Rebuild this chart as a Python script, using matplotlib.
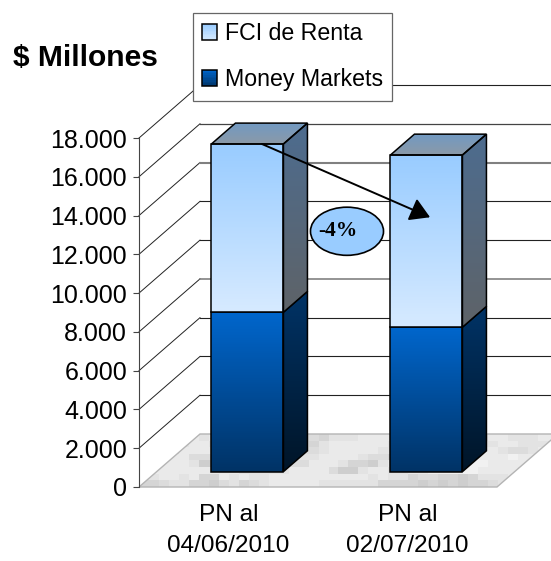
import numpy as np
import matplotlib
matplotlib.use("Agg")
import matplotlib.pyplot as plt
from matplotlib.patches import Polygon, Ellipse, Rectangle, Patch
from matplotlib.legend_handler import HandlerBase
from matplotlib.colors import LinearSegmentedColormap

# ---- data ----
categories = ["PN al\n04/06/2010", "PN al\n02/07/2010"]
money_markets = [8220, 7450]
fci_renta = [8680, 8880]
yticks = [0, 2000, 4000, 6000, 8000, 10000, 12000, 14000, 16000, 18000]
ytick_labels = ["0", "2.000", "4.000", "6.000", "8.000", "10.000", "12.000", "14.000", "16.000", "18.000"]
series_names = ["FCI de Renta", "Money Markets"]
change_label = "-4%"
floor_rows = [
    "777888788877766766577788887778888768877788",
    "887778877887776665788888877665788877887776",
    "887688888887777666788888776668888888766788",
    "888886668887776777888876657788888888898877",
    "888887447888777668887554788888899998888888",
    "888888888877777888864478877889999988887788",
    "778878558787788888888887877566554577788888",
    "556775546756788888777777555545454556788888",
]

W, H = 551, 561
plt.rcParams["font.family"] = ["Liberation Sans", "DejaVu Sans"]
fig = plt.figure(figsize=(W / 100, H / 100), dpi=100, facecolor="white")
L, R, B, T = 139, 497, 487, 138
ax = fig.add_axes([L / W, 1 - B / H, (R - L) / W, (B - T) / H])
ax.set_xlim(0, 2)
ax.set_ylim(0, 18000)
ax.patch.set_visible(False)

DX = 61 / 179          # depth shift in category units
DY = 53 / 349 * 18000  # depth shift in value units


def proj(x, v, d):
    return (x + DX * d, v + DY * d)


def grad_poly(pts, top, bottom, z, edge="black", lw=1.1):
    pts = np.array(pts)
    cmap = LinearSegmentedColormap.from_list("g", [top, bottom])
    im = ax.imshow(np.linspace(0, 1, 64).reshape(-1, 1), cmap=cmap, aspect="auto",
                   extent=(pts[:, 0].min(), pts[:, 0].max(), pts[:, 1].min(), pts[:, 1].max()),
                   zorder=z, origin="upper")
    im.set_clip_box(fig.bbox)
    ax.add_patch(Polygon(pts, closed=True, fc="none", ec=edge, lw=lw, zorder=z + 0.1,
                         clip_on=False, joinstyle="miter"))
    im.set_clip_path(Polygon(pts, closed=True, transform=ax.transData))


# ---- back wall, side wall lines ----
grid_style = {0: ("#aaaaaa", 1.0), 2000: ("#222222", .8), 4000: ("#222222", .8), 6000: ("#222222", .8),
              8000: ("#777777", 1.1), 10000: ("#222222", .8), 12000: ("#222222", .8),
              14000: ("#808080", 1.5), 16000: ("#444444", .9), 18000: ("#222222", .8)}
x_far = 2.4
for v in yticks:
    c, lw = grid_style[v]
    x0, y0 = proj(0, v, 0)
    x1, y1 = proj(0, v, 1)
    if v:
        ax.plot([x0, x1], [y0, y1], color="#222222", lw=0.7, clip_on=False, zorder=1)
        ax.plot([x1, x_far], [y1, y1], color=c, lw=lw, clip_on=False, zorder=1)

# ---- floor ----
floor = [proj(0, 0, 0), proj(2, 0, 0), proj(2, 0, 1), proj(0, 0, 1)]
tex = np.array([[178 + 7 * int(ch) for ch in row] for row in floor_rows], dtype=float)
fx = np.array(floor)
fim = ax.imshow(tex, cmap="gray", vmin=0, vmax=255, aspect="auto", interpolation="nearest", origin="upper",
                extent=(0, fx[:, 0].max(), 0, fx[:, 1].max()), zorder=2)
fim.set_clip_box(fig.bbox)
fim.set_clip_path(Polygon(fx, closed=True, transform=ax.transData))
ax.add_patch(Polygon(fx, closed=True, fc="none", ec="#b4b4b4", lw=1.0, zorder=2.1, clip_on=False))

# ---- 3D stacked bars ----
centers = [0.5, 1.5]
bw = 72 / 179
d0, d1 = 0.29, 0.29 + 24 / 61
shift = 0.007
for c, mm, fci in zip(centers, money_markets, fci_renta):
    x0, x1 = c - bw / 2 + shift, c + bw / 2 + shift
    tot = mm + fci
    # lower series
    grad_poly([proj(x0, 0, d0), proj(x1, 0, d0), proj(x1, mm, d0), proj(x0, mm, d0)], "#0066cc", "#003366", 3)
    grad_poly([proj(x1, 0, d0), proj(x1, 0, d1), proj(x1, mm, d1), proj(x1, mm, d0)], "#003366", "#001528", 3)
    # upper series
    grad_poly([proj(x0, mm, d0), proj(x1, mm, d0), proj(x1, tot, d0), proj(x0, tot, d0)], "#99ccff", "#d6eaff", 4)
    grad_poly([proj(x1, mm, d0), proj(x1, mm, d1), proj(x1, tot, d1), proj(x1, tot, d0)], "#4d6c8f", "#5e6368", 4)
    grad_poly([proj(x0, tot, d0), proj(x1, tot, d0), proj(x1, tot, d1), proj(x0, tot, d1)], "#7299c2", "#8b9aa8", 4)

# ---- axes ----
for s in ["top", "right", "bottom"]:
    ax.spines[s].set_visible(False)
ax.spines["left"].set_color("#444444")
ax.spines["left"].set_linewidth(0.8)
ax.set_yticks(yticks)
ax.set_yticklabels(ytick_labels, fontsize=18)
ax.tick_params(axis="y", length=4.5, width=0.8, color="#444444", pad=4, labelcolor="black")
ax.set_xticks(centers)
ax.set_xticklabels(categories, fontsize=17.6, linespacing=1.55)
ax.tick_params(axis="x", length=0, pad=12)

# ---- annotations ----
ax.annotate("", xy=(1.626, 13913), xytext=(0.687, 17690), zorder=6,
            arrowprops=dict(arrowstyle="-|>,head_length=0.75,head_width=0.45", color="black", lw=1.4,
                            shrinkA=0, shrinkB=0, mutation_scale=16))
ax.add_patch(Ellipse((1.162, 13190), 0.408, 2483, fc="#99ccff", ec="black", lw=1.2, zorder=7))
ax.text(1.112, 13190, change_label, family="Liberation Serif", weight="bold", fontsize=15.5,
        ha="center", va="center", zorder=8)
fig.text(13 / W, 1 - 66 / H, "$ Millones", fontsize=21.6, weight="bold", ha="left", va="baseline", parse_math=False)


# ---- legend ----
class GradHandler(HandlerBase):
    def __init__(self, top, bottom):
        super().__init__()
        self.top, self.bottom = top, bottom

    def create_artists(self, legend, orig, xd, yd, w, h, fs, trans):
        cmap = LinearSegmentedColormap.from_list("h", [self.top, self.bottom])
        arts = []
        n = 10
        for i in range(n):
            arts.append(Rectangle((-xd, -yd + h * (1 - (i + 1) / n)), w, h / n, fc=cmap((i + .5) / n),
                                  ec="none", transform=trans))
        arts.append(Rectangle((-xd, -yd), w, h, fc="none", ec="black", lw=1.1, transform=trans))
        return arts


h1, h2 = Patch(label=series_names[0]), Patch(label=series_names[1])
leg = ax.legend(handles=[h1, h2], loc="upper left", bbox_to_anchor=(192.6 / W, 1 - 13 / H),
                bbox_transform=fig.transFigure, borderaxespad=0, fontsize=16.7,
                handler_map={h1: GradHandler("#99ccff", "#d6eaff"), h2: GradHandler("#0066cc", "#003366")},
                fancybox=False, framealpha=1, edgecolor="#666666", facecolor="white",
                handlelength=0.65, handleheight=0.7, handletextpad=0.35, labelspacing=1.0, borderpad=0.40)
leg.set_zorder(10)
leg.get_frame().set_linewidth(0.9)

ax.set_xlim(0, 2)
ax.set_ylim(0, 18000)
fig.savefig("out.png", dpi=100)
